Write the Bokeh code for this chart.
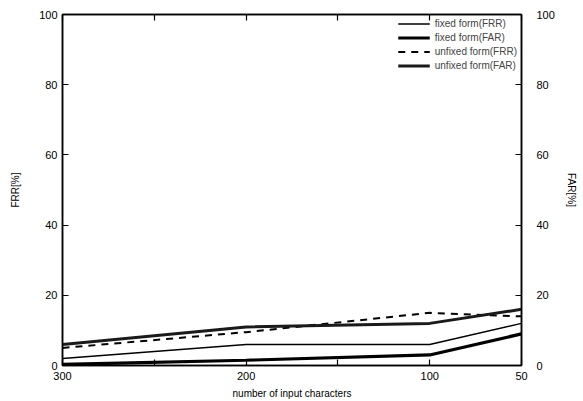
from bokeh.plotting import figure
from bokeh.models import LinearAxis, Range1d, FixedTicker, Legend, LegendItem
from bokeh.embed import file_html
from bokeh.resources import INLINE

# data
chars = [300, 200, 100, 50]
fixed_frr = [2, 6, 6, 12]
fixed_far = [0.3, 1.5, 3, 9]
unfixed_frr = [5, 9.5, 15, 14]
unfixed_far = [6, 11, 12, 16]

x_label_ticks = [300, 200, 100, 50]
x_minor_ticks = [250, 150]
y_ticks = [0, 20, 40, 60, 80, 100]

FONT = "Liberation Sans"

p = figure(frame_width=459, frame_height=351, output_backend="svg", toolbar_location=None,
           x_range=Range1d(300, 50), y_range=Range1d(0, 100),
           min_border_left=62, min_border_right=10, min_border_top=14, min_border_bottom=10,
           x_axis_label="number of input characters", y_axis_label="FRR[%]")
p.grid.visible = False
p.outline_line_color = "black"
p.outline_line_width = 1.5
p.background_fill_color = "white"
p.border_fill_color = "white"

def style_axis(ax):
    ax.axis_line_color = "black"
    ax.axis_line_width = 1.5
    ax.major_tick_in = 6
    ax.major_tick_out = 0
    ax.major_tick_line_width = 1.2
    ax.minor_tick_in = 6
    ax.minor_tick_out = 0
    ax.minor_tick_line_width = 1.2
    ax.minor_tick_line_color = "black"
    ax.major_label_text_font = FONT
    ax.major_label_text_font_size = "11px"
    ax.major_label_text_color = "black"
    ax.axis_label_text_font = FONT
    ax.axis_label_text_font_size = "10px"
    ax.axis_label_text_font_style = "normal"
    ax.axis_label_text_color = "black"

xa = p.xaxis[0]
xa.ticker = FixedTicker(ticks=x_label_ticks, minor_ticks=x_minor_ticks)
style_axis(xa)
xa.major_label_standoff = 6
xa.axis_label_standoff = 5

ya = p.yaxis[0]
ya.ticker = FixedTicker(ticks=y_ticks)
style_axis(ya)
ya.major_label_standoff = 5
ya.axis_label_standoff = 15

ra = LinearAxis(ticker=FixedTicker(ticks=y_ticks), axis_label="FAR[%]")
style_axis(ra)
ra.major_label_standoff = 15
ra.axis_label_standoff = 8
p.add_layout(ra, "right")

ta = LinearAxis(ticker=FixedTicker(ticks=[], minor_ticks=x_label_ticks + x_minor_ticks))
style_axis(ta)
ta.major_label_standoff = 0
p.add_layout(ta, "above")

r1 = p.line(chars, fixed_frr, line_color="black", line_width=1.5)
r2 = p.line(chars, fixed_far, line_color="black", line_width=3.2)
r3 = p.line(chars, unfixed_frr, line_color="black", line_width=2, line_dash="7 6")
r4 = p.line(chars, unfixed_far, line_color="#1a1a1a", line_width=3.0)

legend = Legend(items=[
    LegendItem(label="fixed form(FRR)", renderers=[r1]),
    LegendItem(label="fixed form(FAR)", renderers=[r2]),
    LegendItem(label="unfixed form(FRR)", renderers=[r3]),
    LegendItem(label="unfixed form(FAR)", renderers=[r4]),
], location="top_right")
legend.border_line_color = None
legend.background_fill_alpha = 0
legend.label_text_font = FONT
legend.label_text_font_size = "10px"
legend.label_height = 9
legend.glyph_height = 9
legend.glyph_width = 32
legend.spacing = 3
legend.padding = 6
legend.margin = 4
p.add_layout(legend)

open("out.html", "w").write(file_html(p, INLINE))
